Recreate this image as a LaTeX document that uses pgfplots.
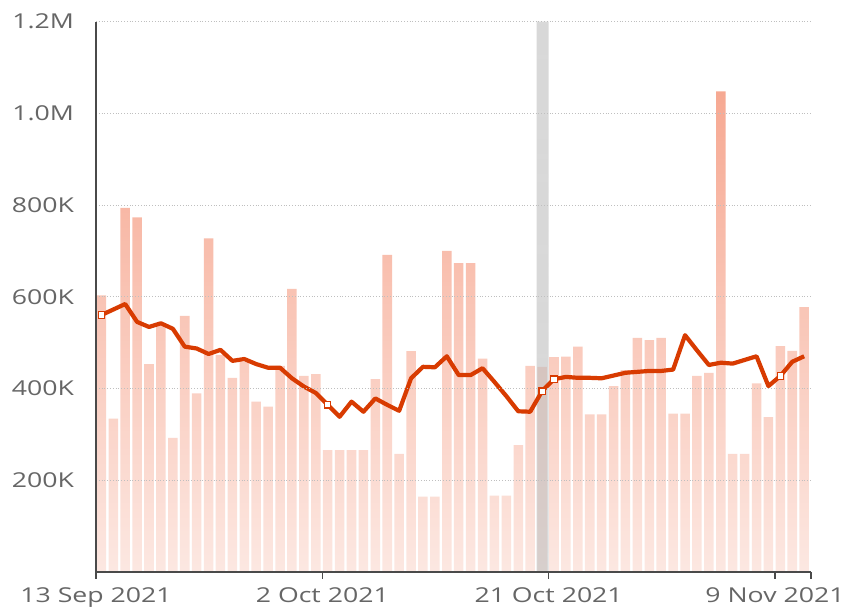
\documentclass[border=0pt]{standalone}
\usepackage{pgfplots}
\pgfplotsset{compat=1.18}
\usepackage{pgfplotstable}
\usetikzlibrary{fadings}
\usepackage{fontspec}
\setmainfont{Open Sans}
\definecolor{lineRed}{HTML}{D83B01}
\definecolor{barTop}{RGB}{246,160,135}
\definecolor{txtGray}{HTML}{666666}
\definecolor{axGray}{HTML}{4A4A4A}
\newcommand{\wl}[1]{\scalebox{1.3}[1]{#1}}
\pgfplotstableread{
d v m
0 603 560
1 334 572
2 794 584
3 773 545
4 453 534
5 542 542
6 292 530
7 558 491
8 389 487
9 727 475
10 473 484
11 423 460
12 458 464
13 371 453
14 360 445
15 449 445
16 617 422
17 427 404
18 431 390
19 265 364
20 265 338
21 265 371
22 265 349
23 420 378
24 691 364
25 257 351
26 481 422
27 164 447
28 164 446
29 700 470
30 673 429
31 673 429
32 465 444
33 166 414
34 166 383
35 276 350
36 449 349
37 447 394
38 468 420
39 469 425
40 491 423
41 343 423
42 343 422
43 405 428
44 440 434
45 510 436
46 505 438
47 510 438
48 345 441
49 345 516
50 427 483
51 434 451
52 1048 456
53 257 454
54 257 462
55 411 470
56 337 405
57 492 427
58 482 458
59 577 470
}\datatable
\begin{document}
\begin{tikzpicture}
\useasboundingbox (-48pt,-18.15pt) rectangle (379pt,285.85pt);
\begin{axis}[
  at={(0,0)}, anchor=south west,
  scale only axis, width=357.35pt, height=275pt,
  xmin=0, xmax=60, ymin=0, ymax=1200,
  axis lines*=left,
  axis on top,
  axis line style={axGray, line width=1.1pt},
  xtick={0,19,38,57,60},
  xticklabels={\wl{13 Sep 2021},\wl{2 Oct 2021},\wl{21 Oct 2021},\wl{9 Nov 2021},},
  ytick={200,400,600,800,1000,1200},
  yticklabels={\wl{200K},\wl{400K},\wl{600K},\wl{800K},\wl{1.0M},\wl{1.2M}},
  tick align=outside,
  major tick length=3.5pt,
  xtick style={axGray, line width=0.8pt},
  ytick style={draw=none},
  ymajorgrids,
  grid style={densely dotted, gray!50, line width=0.5pt},
  tick label style={font=\fontsize{10.25}{12}\selectfont, text=txtGray},
  yticklabel style={anchor=east, xshift=-4pt},
  xticklabel style={anchor=north, yshift=-1pt},
  clip=false,
]
\addplot[ybar, bar width=0.8, draw=none, fill=barTop]
  table[x expr=\thisrow{d}+0.45, y=v] {\datatable};
\addplot[draw=none, fill=white, fill opacity=0.76, path fading=north]
  coordinates {(0,0) (0,1200) (60,1200) (60,0)} \closedcycle;
\addplot[draw=none, fill=gray!50, fill opacity=0.6]
  coordinates {(37,0) (37,1200) (38,1200) (38,0)} \closedcycle;
\addplot[lineRed, line width=2.1pt, line join=round, mark=none]
  table[x expr=\thisrow{d}+0.45, y=m] {\datatable};
\addplot[only marks, mark=square*, mark size=1.6pt,
  mark options={fill=white, draw=lineRed, line width=0.6pt}]
  coordinates {(0.45,560) (19.45,364) (37.45,394) (38.45,420) (57.45,427)};
\end{axis}
\end{tikzpicture}
\end{document}
